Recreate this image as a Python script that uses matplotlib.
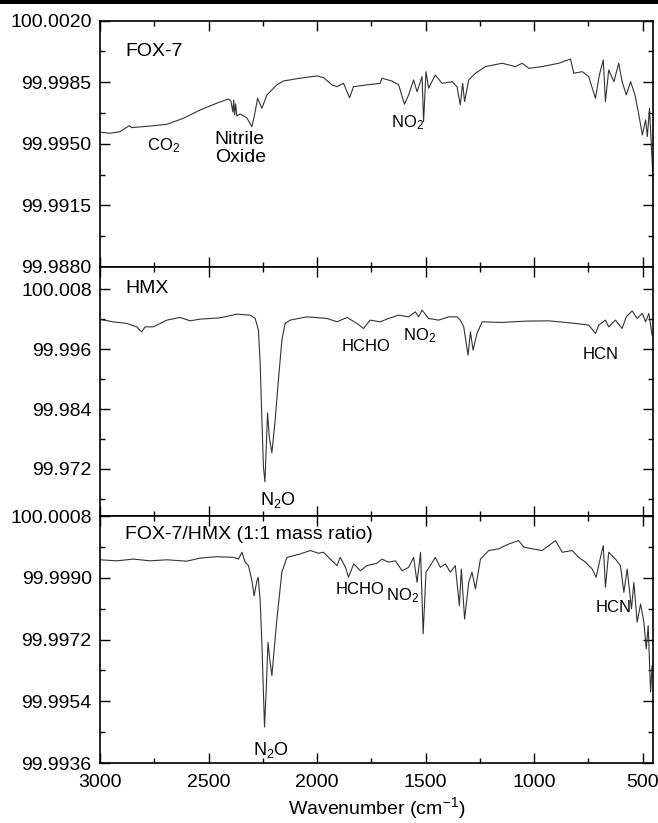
import matplotlib
matplotlib.use('Agg')
import matplotlib.pyplot as plt
from matplotlib.patches import Rectangle

plt.rcParams['font.family'] = ['Liberation Sans', 'DejaVu Sans']
plt.rcParams['mathtext.fontset'] = 'custom'
plt.rcParams['mathtext.rm'] = 'Liberation Sans'
plt.rcParams['mathtext.it'] = 'Liberation Sans:italic'
plt.rcParams['mathtext.bf'] = 'Liberation Sans:bold'

# ---- spectra (wavenumber, signal) ----
fox7_wn = [3000, 2954, 2908, 2865, 2854, 2769, 2692, 2616, 2539, 2462, 2408, 2397, 2388, 2384,
           2380, 2375, 2370, 2354, 2323, 2300, 2285, 2274, 2254, 2231, 2185, 2155, 2078, 2000,
           1970, 1931, 1908, 1878, 1850, 1832, 1770, 1709, 1701, 1655, 1624, 1597, 1578, 1555,
           1539, 1516, 1509, 1498, 1486, 1455, 1424, 1378, 1355, 1340, 1329, 1320, 1301, 1270,
           1224, 1147, 1086, 1055, 1024, 963, 886, 832, 817, 778, 748, 717, 699, 681, 671, 656,
           632, 610, 594, 575, 555, 535, 517, 501, 486, 478, 468, 455, 449]
fox7_val = [99.99566, 99.99560, 99.99569, 99.99603, 99.99592, 99.99601, 99.99611, 99.99645,
            99.99692, 99.99731, 99.99755, 99.99744, 99.99681, 99.99749, 99.99664, 99.99727,
            99.99658, 99.99670, 99.99647, 99.99597, 99.99683, 99.99759, 99.99702, 99.99778,
            99.99835, 99.99857, 99.99873, 99.99886, 99.99876, 99.99835, 99.99825, 99.99844,
            99.99762, 99.99825, 99.99835, 99.99844, 99.99873, 99.99857, 99.99835, 99.99725,
            99.99778, 99.99863, 99.99796, 99.99882, 99.99626, 99.99910, 99.99816, 99.99891,
            99.99844, 99.99853, 99.99825, 99.99721, 99.99844, 99.99740, 99.99863, 99.99901,
            99.99939, 99.99958, 99.99939, 99.99958, 99.99929, 99.99939, 99.99958, 99.99982,
            99.99901, 99.99910, 99.99882, 99.99759, 99.99891, 99.99977, 99.99740, 99.99920,
            99.99853, 99.99958, 99.99853, 99.99778, 99.99853, 99.99778, 99.99664, 99.99550,
            99.99636, 99.99541, 99.99702, 99.99380, 99.99278]

hmx_wn = [3000, 2939, 2877, 2831, 2808, 2792, 2754, 2692, 2631, 2585, 2539, 2447, 2369, 2308,
          2285, 2270, 2262, 2254, 2247, 2240, 2234, 2228, 2220, 2208, 2193, 2178, 2162, 2147,
          2124, 2047, 1954, 1908, 1862, 1816, 1786, 1755, 1709, 1670, 1624, 1578, 1547, 1532,
          1516, 1486, 1440, 1393, 1355, 1340, 1324, 1304, 1293, 1281, 1263, 1239, 1147, 1040,
          932, 809, 748, 717, 702, 671, 656, 625, 594, 575, 548, 525, 501, 486, 471, 456]
hmx_val = [100.00198, 100.00150, 100.00118, 100.00049, 99.99949, 100.00049, 100.00049,
           100.00184, 100.00238, 100.00170, 100.00204, 100.00230, 100.00304, 100.00284,
           100.00218, 99.99983, 99.99315, 99.98177, 99.97240, 99.96939, 99.97641, 99.98323,
           99.97842, 99.97521, 99.98177, 99.98980, 99.99782, 100.00118, 100.00184, 100.00250,
           100.00218, 100.00150, 100.00238, 100.00118, 100.00017, 100.00184, 100.00150,
           100.00218, 100.00284, 100.00250, 100.00350, 100.00250, 100.00385, 100.00218,
           100.00184, 100.00250, 100.00250, 100.00184, 100.00049, 99.99481, 99.99949, 99.99582,
           99.99917, 100.00150, 100.00138, 100.00164, 100.00170, 100.00118, 100.00084, 99.99917,
           100.00084, 100.00184, 100.00049, 100.00184, 100.00017, 100.00250, 100.00370,
           100.00218, 100.00318, 100.00150, 100.00318, 99.99883]

mix_wn = [3000, 2923, 2846, 2769, 2692, 2600, 2539, 2462, 2385, 2362, 2346, 2331, 2316, 2300,
          2290, 2277, 2271, 2262, 2254, 2242, 2234, 2226, 2218, 2208, 2185, 2162, 2139, 2078,
          2031, 1993, 1970, 1939, 1908, 1893, 1869, 1855, 1831, 1800, 1770, 1724, 1701, 1670,
          1639, 1608, 1578, 1555, 1539, 1523, 1511, 1498, 1478, 1455, 1432, 1409, 1386, 1363,
          1344, 1335, 1320, 1301, 1286, 1270, 1247, 1209, 1163, 1117, 1071, 1047, 1008, 963,
          901, 870, 824, 794, 763, 732, 714, 694, 681, 671, 656, 625, 602, 586, 571, 551, 540,
          525, 509, 494, 483, 474, 463, 456]
mix_val = [99.99953, 99.99950, 99.99955, 99.99950, 99.99953, 99.99949, 99.99958, 99.99962,
           99.99960, 99.99955, 99.99975, 99.99946, 99.99936, 99.99892, 99.99848, 99.99892,
           99.99902, 99.99834, 99.99708, 99.99465, 99.99576, 99.99712, 99.99664, 99.99615,
           99.99780, 99.99917, 99.99960, 99.99970, 99.99980, 99.99972, 99.99975, 99.99955,
           99.99936, 99.99960, 99.99931, 99.99902, 99.99941, 99.99921, 99.99936, 99.99943,
           99.99955, 99.99946, 99.99950, 99.99921, 99.99931, 99.99960, 99.99887, 99.99975,
           99.99737, 99.99917, 99.99936, 99.99960, 99.99931, 99.99941, 99.99917, 99.99936,
           99.99819, 99.99926, 99.99780, 99.99887, 99.99917, 99.99868, 99.99955, 99.99980,
           99.99985, 99.99999, 100.00009, 99.99990, 99.99985, 99.99980, 100.00009, 99.99975,
           99.99980, 99.99960, 99.99946, 99.99926, 99.99902, 99.99960, 99.99994, 99.99873,
           99.99975, 99.99955, 99.99936, 99.99858, 99.99926, 99.99810, 99.99887, 99.99771,
           99.99824, 99.99771, 99.99693, 99.99761, 99.99567, 99.99644]

# ---- axis ticks ----
x_major = [3000, 2500, 2000, 1500, 1000, 500]
x_minor = [2750, 2250, 1750, 1250, 750]

fox7_yticks = [100.0020, 99.9985, 99.9950, 99.9915, 99.9880]
fox7_yminor = [100.00025, 99.99675, 99.99325, 99.98975]
fox7_ylabels = ['100.0020', '99.9985', '99.9950', '99.9915', '99.9880']

hmx_yticks = [100.008, 99.996, 99.984, 99.972]
hmx_yminor = [100.002, 99.990, 99.978, 99.966]
hmx_ylabels = ['100.008', '99.996', '99.984', '99.972']

mix_yticks = [100.0008, 99.9990, 99.9972, 99.9954, 99.9936]
mix_yminor = [99.9999, 99.9981, 99.9963, 99.9945]
mix_ylabels = ['100.0008', '99.9990', '99.9972', '99.9954', '99.9936']

# ---- annotations (text, wavenumber, signal, size) ----
fox7_notes = [('CO$_\\mathregular{2}$', 2783, 99.99461, 12),
              ('Nitrile', 2357, 99.99497, 14),
              ('Oxide', 2350, 99.99399, 14),
              ('NO$_\\mathregular{2}$', 1658, 99.99592, 12)]
hmx_notes = [('N$_\\mathregular{2}$O', 2265, 99.96471, 13),
             ('HCHO', 1885, 99.99562, 12),
             ('NO$_\\mathregular{2}$', 1604, 99.99782, 12),
             ('HCN', 778, 99.99395, 12)]
mix_notes = [('N$_\\mathregular{2}$O', 2294, 99.99382, 13),
             ('HCHO', 1916, 99.99853, 12),
             ('NO$_\\mathregular{2}$', 1681, 99.99834, 12),
             ('HCN', 717, 99.99802, 12)]

fig = plt.figure(figsize=(6.58, 8.23), dpi=100)

#black strip along the very top of the original image
fig.add_artist(Rectangle((0, 1 - 4 / 823), 1, 4 / 823, transform=fig.transFigure,
                         color='black', lw=0))

left, width = 0.152, 0.8397
ax1 = fig.add_axes([left, 0.6756, width, 0.2993])
ax2 = fig.add_axes([left, 0.3727, width, 0.3029])
ax3 = fig.add_axes([left, 0.0729, width, 0.2998])

panels = [
    (ax1, fox7_wn, fox7_val, (99.9880, 100.0020), fox7_yticks, fox7_yminor, fox7_ylabels,
     'FOX-7', 0.8735, fox7_notes),
    (ax2, hmx_wn, hmx_val, (99.9625, 100.0125), hmx_yticks, hmx_yminor, hmx_ylabels,
     'HMX', 0.915, hmx_notes),
    (ax3, mix_wn, mix_val, (99.9936, 100.0008), mix_yticks, mix_yminor, mix_ylabels,
     'FOX-7/HMX (1:1 mass ratio)', 0.925, mix_notes),
]

for ax, wn, val, ylim, yt, ym, yl, title, ty, notes in panels:
    ax.plot(wn, val, color='#333333', lw=0.8)
    ax.set_xlim(3000, 454)
    ax.set_ylim(*ylim)

    ax.set_xticks(x_major)
    ax.set_xticks(x_minor, minor=True)
    ax.set_yticks(yt)
    ax.set_yticklabels(yl)
    ax.set_yticks(ym, minor=True)

    ax.tick_params(which='both', direction='in', top=True, right=True,
                   labelsize=14, pad=6, width=1.0)
    ax.tick_params(axis='x', pad=8)
    ax.tick_params(which='major', length=7)
    ax.tick_params(which='minor', length=3.6)
    for sp in ax.spines.values():
        sp.set_linewidth(1.2)

    #panel name
    ax.text(0.045, ty, title, transform=ax.transAxes, fontsize=14,
            ha='left', va='center')

    #band assignments
    for txt, x, y, fs in notes:
        ax.text(x, y, txt, fontsize=fs, ha='left' if txt not in ('Nitrile', 'Oxide') else 'center',
                va='baseline')

ax1.tick_params(labelbottom=False)
ax2.tick_params(labelbottom=False)
ax3.set_xlabel('Wavenumber (cm$^{-1}$)', fontsize=14, labelpad=3)

plt.savefig('out.png', dpi=100)
